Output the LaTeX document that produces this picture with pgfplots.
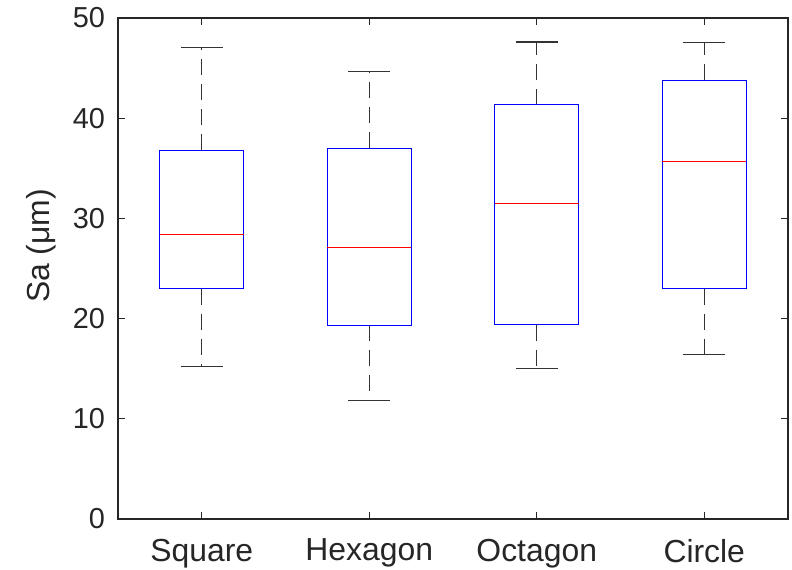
\documentclass[border=0pt]{standalone}
\usepackage{fontspec}
\setmainfont{Liberation Sans}
\usepackage{pgfplots}
\pgfplotsset{compat=1.18}
\definecolor{axgray}{HTML}{262626}
\definecolor{wgray}{HTML}{333333}
\definecolor{bblue}{HTML}{0000FF}
\definecolor{mred}{HTML}{FF0000}
\begin{document}
\begin{tikzpicture}
\useasboundingbox (-59bp,-25.5bp) rectangle (337bp,259.5bp);
\begin{axis}[
  at={(0,0)}, anchor=south west,
  scale only axis, width=335bp, height=250.5bp,
  xmin=0.5, xmax=4.5, ymin=0, ymax=50,
  xtick={1,2,3,4}, xticklabels={Square,Hexagon,Octagon,Circle},
  ytick={0,10,20,30,40,50},
  tick align=inside, major tick length=3.5bp,
  axis line style={axgray, line width=0.9bp},
  every tick/.style={axgray, line width=0.6bp},
  tick label style={text=axgray},
  xticklabel style={font=\fontsize{16}{18}\selectfont, yshift=-6.5bp},
  yticklabel style={font=\fontsize{14.5}{17}\selectfont, xshift=-3bp},
  ylabel={Sa (μm)},
  ylabel style={font=\fontsize{16}{18}\selectfont, text=axgray,
    at={(ticklabel cs:0.545,1.5bp)}},
  /pgf/number format/assume math mode=true,
  unbounded coords=jump,
]
% Values (lower whisker, Q1, median, Q3, upper whisker):
% Square  15.2  23.0  28.35 36.8  47.05
% Hexagon 11.8  19.35 27.1  37.0  44.7
% Octagon 15.0  19.4  31.45 41.35 47.6
% Circle  16.4  23.0  35.65 43.8  47.55
% whiskers (dashed), drawn outward from the box
\addplot[wgray, line width=0.5bp, dash pattern=on 8bp off 4.5bp] coordinates {
  (1,36.8) (1,47.05) (nan,nan) (1,23.0) (1,15.2) (nan,nan)
  (2,37.0) (2,44.7) (nan,nan) (2,19.35) (2,11.8) (nan,nan)
  (3,41.35) (3,47.6) (nan,nan) (3,19.4) (3,15.0) (nan,nan)
  (4,43.8) (4,47.55) (nan,nan) (4,23.0) (4,16.4)
};
% whisker caps
\addplot[wgray, line width=0.6bp, solid] coordinates {
  (0.875,47.05) (1.125,47.05) (nan,nan) (0.875,15.2) (1.125,15.2) (nan,nan)
  (1.875,44.7) (2.125,44.7) (nan,nan) (1.875,11.8) (2.125,11.8) (nan,nan)
  (2.875,47.6) (3.125,47.6) (nan,nan) (2.875,15.0) (3.125,15.0) (nan,nan)
  (3.875,47.55) (4.125,47.55) (nan,nan) (3.875,16.4) (4.125,16.4)
};
% boxes
\addplot[bblue, line width=0.5bp, solid] coordinates {
  (0.75,23.0) (1.25,23.0) (1.25,36.8) (0.75,36.8) (0.75,23.0) (nan,nan)
  (1.75,19.35) (2.25,19.35) (2.25,37.0) (1.75,37.0) (1.75,19.35) (nan,nan)
  (2.75,19.4) (3.25,19.4) (3.25,41.35) (2.75,41.35) (2.75,19.4) (nan,nan)
  (3.75,23.0) (4.25,23.0) (4.25,43.8) (3.75,43.8) (3.75,23.0)
};
% medians
\addplot[mred, line width=0.5bp, solid] coordinates {
  (0.75,28.35) (1.25,28.35) (nan,nan)
  (1.75,27.1) (2.25,27.1) (nan,nan)
  (2.75,31.45) (3.25,31.45) (nan,nan)
  (3.75,35.65) (4.25,35.65)
};
\end{axis}
\end{tikzpicture}
\end{document}
